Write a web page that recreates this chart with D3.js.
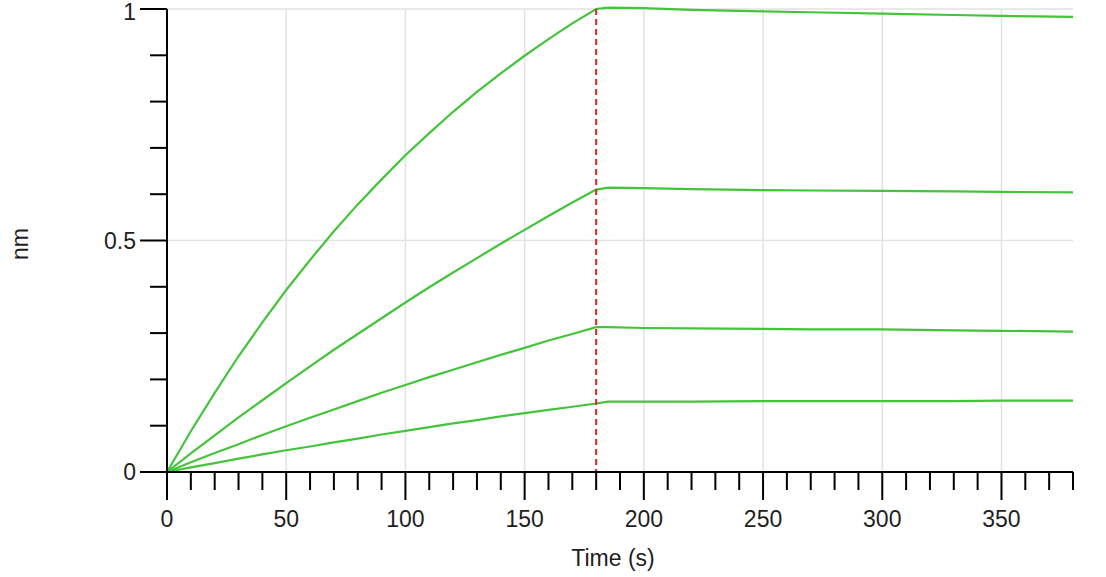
<!DOCTYPE html>
<html><head><meta charset="utf-8">
<script src="https://cdn.jsdelivr.net/npm/d3@7"></script>
<style>body{margin:0;background:#fff}svg{display:block}text{font-family:"Liberation Sans",Arial,sans-serif;fill:#1e1e1e}</style>
</head><body><svg id="c" width="1106" height="577"></svg>
<script>
const times = [0,10,20,30,40,50,60,70,80,90,100,110,120,130,140,150,160,170,180,185,200,220,250,270,300,330,350,380];
const s1 = [0,0.088,0.171,0.250,0.323,0.393,0.458,0.520,0.578,0.632,0.684,0.732,0.778,0.821,0.861,0.899,0.935,0.969,1.000,1.003,1.002,0.998,0.995,0.993,0.990,0.987,0.985,0.983];
const s2 = [0,0.040,0.079,0.118,0.155,0.192,0.228,0.264,0.298,0.332,0.366,0.399,0.431,0.462,0.493,0.523,0.553,0.582,0.610,0.614,0.613,0.611,0.609,0.608,0.607,0.606,0.605,0.604];
const s3 = [0,0.021,0.041,0.060,0.080,0.099,0.117,0.135,0.153,0.171,0.188,0.205,0.221,0.237,0.253,0.268,0.284,0.298,0.313,0.313,0.311,0.310,0.309,0.308,0.308,0.306,0.305,0.303];
const s4 = [0,0.010,0.019,0.029,0.038,0.047,0.055,0.064,0.072,0.081,0.089,0.097,0.105,0.112,0.120,0.127,0.134,0.141,0.148,0.152,0.152,0.152,0.153,0.153,0.153,0.153,0.154,0.154];
const seriesList = [s1,s2,s3,s4];
const xTickLabels = [0,50,100,150,200,250,300,350];
const yTickLabels = [0,0.5,1];
const stepTime = 180;

const svg = d3.select("#c");
const x = d3.scaleLinear().domain([0,380]).range([167,1073]);
const y = d3.scaleLinear().domain([0,1]).range([472,9]);

// grid
svg.append("g").selectAll("line").data(xTickLabels.slice(1)).join("line")
  .attr("x1",d=>x(d)).attr("x2",d=>x(d)).attr("y1",y(1)).attr("y2",y(0))
  .attr("stroke","#e2e2e2").attr("stroke-width",1.5);
svg.append("g").selectAll("line").data([0.5,1]).join("line")
  .attr("x1",x(0)).attr("x2",x(380)).attr("y1",d=>y(d)).attr("y2",d=>y(d))
  .attr("stroke","#e2e2e2").attr("stroke-width",1.5);

// curves
const line = d3.line().x((d,i)=>x(times[i])).y(d=>y(d));
svg.append("g").selectAll("path").data(seriesList).join("path")
  .attr("d",line).attr("fill","none").attr("stroke","#44c43a").attr("stroke-width",2.2);

// step marker
svg.append("line").attr("x1",x(stepTime)).attr("x2",x(stepTime)).attr("y1",y(1)).attr("y2",y(0))
  .attr("stroke","#e3241c").attr("stroke-width",2).attr("stroke-dasharray","6,4");

// x axis
const xMinor = d3.range(0,381,10);
const xa = svg.append("g");
xa.append("line").attr("x1",x(0)).attr("x2",x(380)).attr("y1",y(0)).attr("y2",y(0)).attr("stroke","#000").attr("stroke-width",2);
xa.selectAll("line.t").data(xMinor).join("line").attr("class","t")
  .attr("x1",d=>x(d)).attr("x2",d=>x(d)).attr("y1",y(0))
  .attr("y2",d=>y(0)+(d%50===0?28:18)).attr("stroke","#000").attr("stroke-width",2);
xa.selectAll("text").data(xTickLabels).join("text")
  .attr("x",d=>x(d)).attr("y",527).attr("text-anchor","middle").attr("font-size",23).text(d=>d);

// y axis
const yMinor = d3.range(0,11).map(i=>i/10);
const ya = svg.append("g");
ya.append("line").attr("x1",x(0)).attr("x2",x(0)).attr("y1",y(0)).attr("y2",y(1)).attr("stroke","#000").attr("stroke-width",2);
ya.selectAll("line.t").data(yMinor).join("line").attr("class","t")
  .attr("y1",d=>y(d)).attr("y2",d=>y(d)).attr("x1",x(0))
  .attr("x2",(d,i)=>x(0)-(i%5===0?27:17)).attr("stroke","#000").attr("stroke-width",2);
ya.selectAll("text").data(yTickLabels).join("text")
  .attr("x",136).attr("y",d=>Math.max(y(d)+8,20)).attr("text-anchor","end").attr("font-size",23).text(d=>d);

// titles
svg.append("text").attr("x",613).attr("y",566).attr("text-anchor","middle").attr("font-size",23).text("Time (s)");
svg.append("text").attr("transform","translate(28,244) rotate(-90)").attr("text-anchor","middle").attr("font-size",23).text("nm");
</script></body></html>
